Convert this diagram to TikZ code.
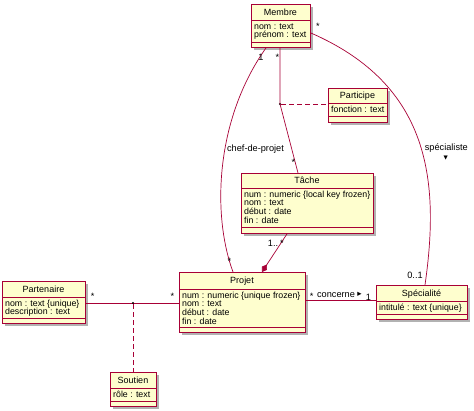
\documentclass[tikz,border=0pt]{standalone}
\usepackage{fontspec}
\setmainfont{Liberation Sans}
\newfontfamily\dejavu{DejaVu Sans}
\usetikzlibrary{shadows,arrows.meta}
\definecolor{umlfill}{HTML}{FEFECE}
\definecolor{umlline}{HTML}{A80036}
\tikzset{
  classbox/.style={draw=umlline, fill=umlfill, line width=0.9pt, inner sep=0pt, anchor=north west,
    drop shadow={shadow xshift=2.5pt, shadow yshift=-2.5pt, fill=black, opacity=0.3}},
  sepline/.style={draw=umlline, line width=0.9pt},
  ctitle/.style={anchor=base, inner sep=0pt, font=\fontsize{9}{10}\selectfont},
  cattr/.style={anchor=base west, inner sep=0pt, font=\fontsize{8.8}{9}\selectfont},
  assoc/.style={color=umlline, draw=umlline, line width=0.7pt},
  dashedassoc/.style={assoc, line width=0.8pt, dash pattern=on 5pt off 3pt},
  mult/.style={anchor=base, inner sep=0pt, font=\fontsize{9.2}{10}\selectfont},
  joint/.style={circle, fill=black, inner sep=0pt, minimum size=2.2pt},
  tri/.style={inner sep=0pt, font=\dejavu\fontsize{5.5}{6}\selectfont},
}
\newcommand\umlclass[9]{%
  \node[classbox, minimum width={(#4-#2)*1pt}, minimum height={(#5-#3)*1pt}] (#1) at (#2,#3) {};
  \draw[sepline] (#1.west |- 0,#6) -- (#1.east |- 0,#6);
  \draw[sepline] (#1.west |- 0,#7) -- (#1.east |- 0,#7);
  \node[ctitle] (#1-title) at ({(#2+#4)/2},{(#3+#6)/2+3.3}) {#8};
  \foreach \a [count=\i] in {#9} {\node[cattr] (#1-a\i) at (#2+3,{#6+9.2+(\i-1)*8.7}) {\a};}
}
\begin{document}
\begin{tikzpicture}[x=1pt,y=-1pt]
\useasboundingbox[fill=white] (0,0) rectangle (474,411);

\umlclass{membre}{251}{4}{310}{47}{20}{42}{Membre}{nom : text, prénom : text}
\umlclass{participe}{328}{88}{387}{122}{103}{116}{Participe}{fonction : text}
\umlclass{tache}{241}{173}{373}{233}{188}{227}{Tâche}{num : numeric \{local key frozen\}, nom : text, début : date, fin : date}
\umlclass{projet}{179}{272}{305}{332}{289}{327}{Projet}{num : numeric \{unique frozen\}, nom : text, début : date, fin : date}
\umlclass{partenaire}{2}{281}{85}{323}{297}{318}{Partenaire}{nom : text \{unique\}, description : text}
\umlclass{specialite}{376}{285}{467}{319}{301}{314}{Spécialité}{intitulé : text \{unique\}}
\umlclass{soutien}{110}{372}{156}{406}{388}{401}{Soutien}{rôle : text}

% participe
\node[joint] (pdot) at (280,104) {};
\draw[assoc] (pdot |- membre.south) -- (pdot.center) -- (298,0 |- tache.north);
\draw[dashedassoc] (pdot.east) -- (pdot -| participe.west);
\node[mult] (m1) at (277.5,60.2) {*};
\node[mult] (m2) at (293.5,165.2) {*};

% chef-de-projet
\draw[assoc] (266,0 |- membre.south) .. controls (215,120) and (212,215) .. (233,0 |- projet.north);
\node[mult] (m3) at (261,60.5) {1};
\node[mult] (m4) at (229.5,265) {*};
\node[mult] (lchef) at (255.5,151.3) {chef-de-projet};

% specialiste
\draw[assoc] (membre.east |- 0,33) .. controls (430,85) and (440,180) .. (425,0 |- specialite.north);
\node[mult] (m5) at (318,30) {*};
\node[mult] (m6) at (415,278.5) {0..1};
\node[mult] (lspec) at (446.3,151) {spécialiste};
\node[tri] (tspec) at (445.7,158) {▼};

% composition
\draw[assoc, -{Diamond[length=9pt,width=6pt]}] (287,0 |- tache.south) -- (262,0 |- projet.north);
\node[mult] (m7) at (273,246.5) {1..};
\node[mult] (m8) at (282,247) {*};

% concerne
\draw[assoc] (projet.east |- 0,300) -- (specialite.west |- 0,300);
\node[mult] (m9) at (311.7,299.5) {*};
\node[mult] (lconc) at (336,297.3) {concerne};
\node[inner sep=0pt, font=\dejavu\fontsize{8.5}{9}\selectfont] (tconc) at (359.5,294.5) {▸};
\node[mult] (m10) at (368.5,300.8) {1};

% partenaire - projet
\draw[assoc] (partenaire.east |- 0,303) -- (projet.west |- 0,303);
\node[joint] (sdot) at (133,303) {};
\draw[dashedassoc] (sdot.south) -- (sdot |- soutien.north);
\node[mult] (m11) at (92.7,299.5) {*};
\node[mult] (m12) at (172.3,299.5) {*};
\end{tikzpicture}
\end{document}
